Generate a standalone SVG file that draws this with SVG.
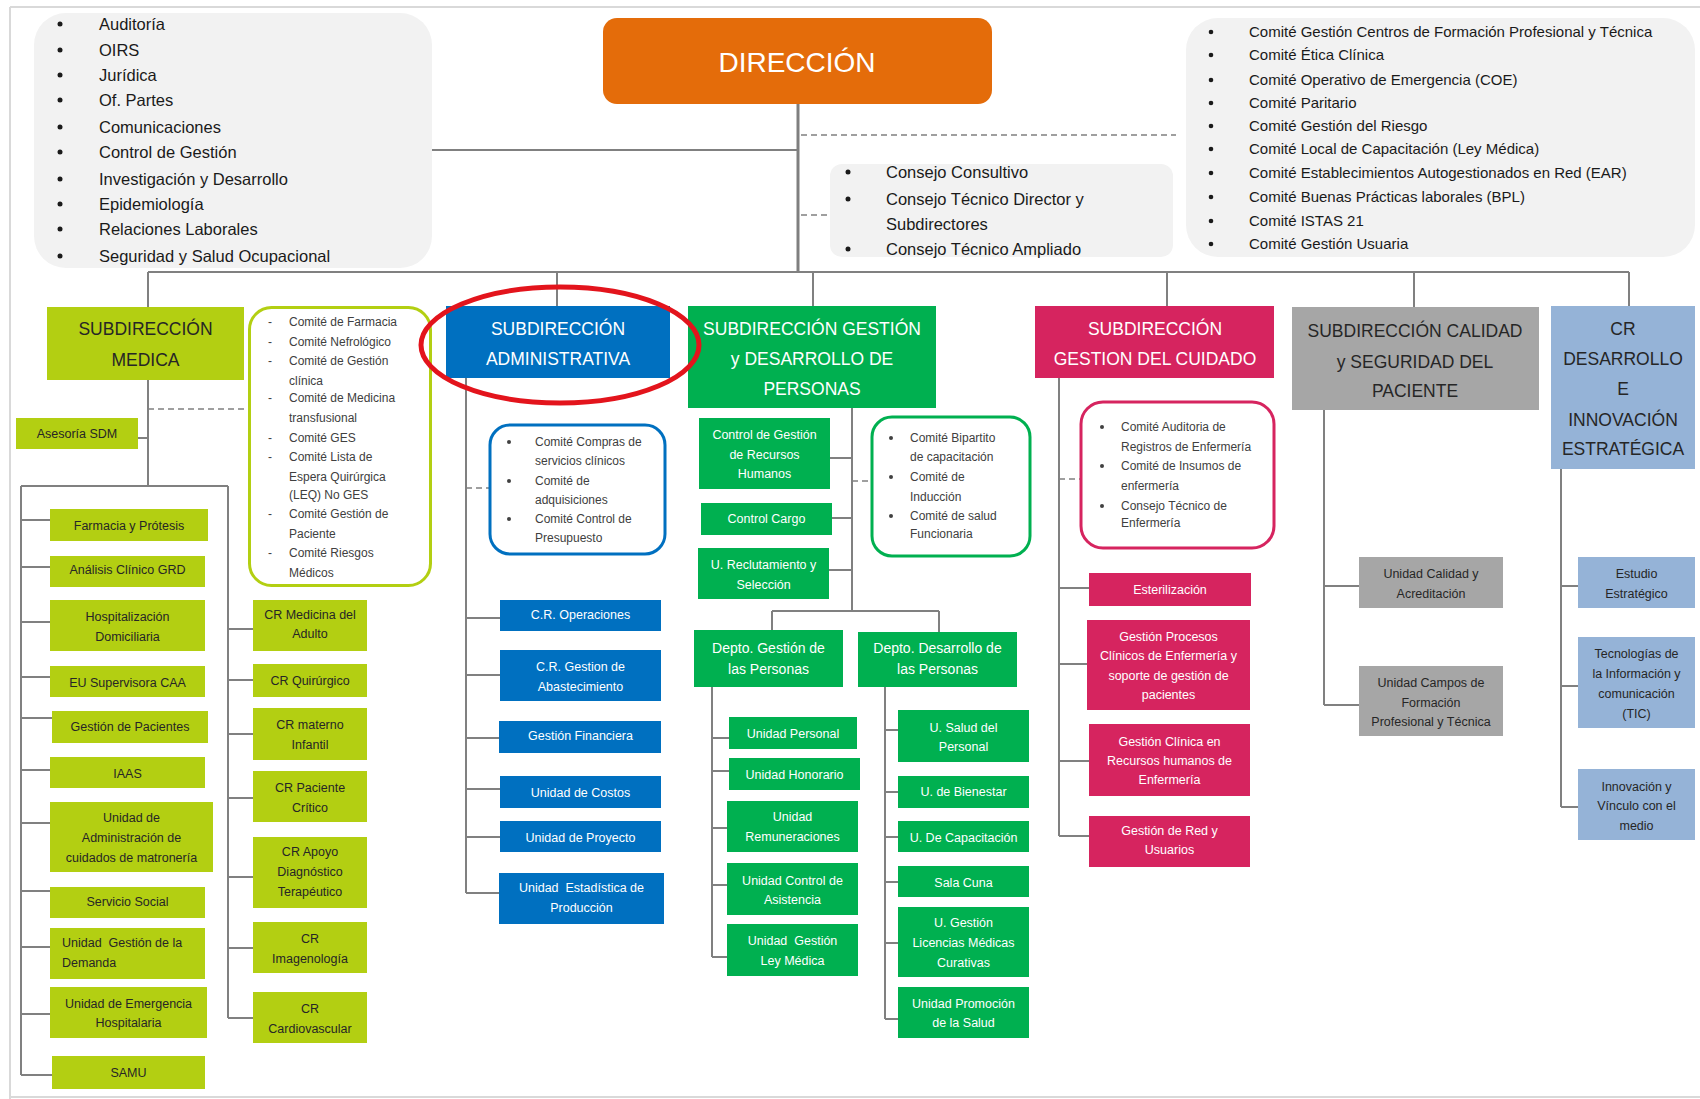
<svg xmlns="http://www.w3.org/2000/svg" width="1700" height="1099" viewBox="0 0 1700 1099">
<style>
text{font-family:"Liberation Sans",Arial,sans-serif}
.conn{stroke:#808080;stroke-width:2;fill:none}
.dash{stroke:#808080;stroke-width:1.5;stroke-dasharray:6 4;fill:none}
.list{font-size:16.5px;fill:#1a1a1a}
.listr{font-size:15px;fill:#1a1a1a}
.title{font-size:17.5px;text-anchor:middle}
.unit{font-size:12.5px;text-anchor:middle}
.cm{font-size:12px;fill:#404040}
.w{fill:#ffffff}
.d{fill:#262626}
.gbox{fill:#f2f2f2}
.med{fill:#b3cf12}
.adm{fill:#0070c0}
.per{fill:#00b050}
.cui{fill:#d6245f}
.cal{fill:#a6a6a6}
.crd{fill:#95b3d7}
.blt{fill:#1a1a1a}
.cblt{fill:#404040}
</style>
<rect width="1700" height="1099" fill="#ffffff"/>
<path d="M10 7H1700M10 7V1099M10 1097H1700" stroke="#d9d9d9" stroke-width="2" fill="none"/>

<g id="connectors">
<path d="M798 104V272" stroke="#7f7f7f" stroke-width="3" fill="none"/>
<path class="conn" d="M432 150H798M148 272H1629M148 272V307M557 272V306M813 272V306M1167 272V306M1414 272V307M1629 272V306"/>
<path class="dash" d="M801 135H1176M801 215H830"/>
<path class="conn" d="M148 380V486M138 438H148M21 486H228M21 486V1075M228 486V1018M21 520H50M21 567H50M21 622H50M21 677H50M21 718H52M21 770H50M21 823H50M21 891H50M21 947H50M21 1014H50M21 1075H52M228 629H253M228 680H253M228 734H253M228 798H253M228 877H253M228 948H253M228 1018H253"/>
<path class="dash" d="M148 409H248"/>
<path class="conn" d="M466 378V893M466 618H500M466 675H500M466 738H499M466 789H500M466 837H500M466 893H499"/>
<path class="dash" d="M466 488H490"/>
<path class="conn" d="M852 408V611M830 458H852M832 518H852M829 570H852M772 611H939M772 611V630M939 611V632M712 687V957M712 738H729M712 771H729M712 828H727M712 885H727M712 957H727M885 687V1019M885 730H898M885 792H898M885 837H898M885 882H898M885 943H898M885 1019H898"/>
<path class="dash" d="M852 481H872"/>
<path class="conn" d="M1059 378V836M1059 588H1089M1059 664H1087M1059 761H1089M1059 836H1089"/>
<path class="dash" d="M1059 479H1081"/>
<path class="conn" d="M1324 410V705M1324 586H1359M1324 705H1359M1561 469V807M1561 586H1578M1561 686H1578M1561 807H1578"/>
</g>

<g id="staff-list">
<rect class="gbox" x="34" y="13" width="398" height="255" rx="32"/>
<g class="blt"><circle cx="60" cy="24" r="2.5"/><circle cx="60" cy="50" r="2.5"/><circle cx="60" cy="75" r="2.5"/><circle cx="60" cy="100" r="2.5"/><circle cx="60" cy="127" r="2.5"/><circle cx="60" cy="152" r="2.5"/><circle cx="60" cy="179" r="2.5"/><circle cx="60" cy="204" r="2.5"/><circle cx="60" cy="229" r="2.5"/><circle cx="60" cy="256" r="2.5"/></g>
<text class="list"><tspan x="99" y="30">Auditoría</tspan><tspan x="99" y="56">OIRS</tspan><tspan x="99" y="81">Jurídica</tspan><tspan x="99" y="106">Of. Partes</tspan><tspan x="99" y="133">Comunicaciones</tspan><tspan x="99" y="158">Control de Gestión</tspan><tspan x="99" y="185">Investigación y Desarrollo</tspan><tspan x="99" y="210">Epidemiología</tspan><tspan x="99" y="235">Relaciones Laborales</tspan><tspan x="99" y="262">Seguridad y Salud Ocupacional</tspan></text>
</g>

<g id="direccion">
<rect x="603" y="18" width="389" height="86" rx="14" fill="#e46c0a"/>
<text x="797" y="72" font-size="28" text-anchor="middle" class="w">DIRECCIÓN</text>
</g>

<g id="consejos">
<rect class="gbox" x="830" y="164" width="343" height="93" rx="12"/>
<g class="blt"><circle cx="848" cy="172" r="2.5"/><circle cx="848" cy="199" r="2.5"/><circle cx="848" cy="249" r="2.5"/></g>
<text class="list"><tspan x="886" y="177.5">Consejo Consultivo</tspan><tspan x="886" y="204.5">Consejo Técnico Director y</tspan><tspan x="886" y="229.5">Subdirectores</tspan><tspan x="886" y="254.5">Consejo Técnico Ampliado</tspan></text>
</g>

<g id="comites-direccion">
<rect class="gbox" x="1186" y="18" width="509" height="239" rx="32"/>
<g class="blt"><circle cx="1211" cy="32" r="2.3"/><circle cx="1211" cy="55" r="2.3"/><circle cx="1211" cy="80" r="2.3"/><circle cx="1211" cy="103" r="2.3"/><circle cx="1211" cy="126" r="2.3"/><circle cx="1211" cy="149" r="2.3"/><circle cx="1211" cy="173" r="2.3"/><circle cx="1211" cy="197" r="2.3"/><circle cx="1211" cy="221" r="2.3"/><circle cx="1211" cy="244" r="2.3"/></g>
<text class="listr"><tspan x="1249" y="37">Comité Gestión Centros de Formación Profesional y Técnica</tspan><tspan x="1249" y="60">Comité Ética Clínica</tspan><tspan x="1249" y="85">Comité Operativo de Emergencia (COE)</tspan><tspan x="1249" y="108">Comité Paritario</tspan><tspan x="1249" y="131">Comité Gestión del Riesgo</tspan><tspan x="1249" y="154">Comité Local de Capacitación (Ley Médica)</tspan><tspan x="1249" y="178">Comité Establecimientos Autogestionados en Red (EAR)</tspan><tspan x="1249" y="202">Comité Buenas Prácticas laborales (BPL)</tspan><tspan x="1249" y="226">Comité ISTAS 21</tspan><tspan x="1249" y="249">Comité Gestión Usuaria</tspan></text>
</g>

<!-- SUBDIRECCIÓN MEDICA -->
<g id="sub-medica">
<rect class="med" x="47" y="307" width="197" height="73"/>
<text class="title d"><tspan x="145.5" y="335">SUBDIRECCIÓN</tspan><tspan x="145.5" y="366">MEDICA</tspan></text>
</g>
<g id="comites-medica">
<rect x="249.5" y="307.5" width="181" height="278" rx="22" fill="#fff" stroke="#b3cf12" stroke-width="3"/>
<text class="cm"><tspan x="268" y="326">-</tspan><tspan x="268" y="346">-</tspan><tspan x="268" y="365">-</tspan><tspan x="268" y="402">-</tspan><tspan x="268" y="442">-</tspan><tspan x="268" y="461">-</tspan><tspan x="268" y="518">-</tspan><tspan x="268" y="557">-</tspan></text>
<text class="cm"><tspan x="289" y="326">Comité de Farmacia</tspan><tspan x="289" y="346">Comité Nefrológico</tspan><tspan x="289" y="365">Comité de Gestión</tspan><tspan x="289" y="385">clínica</tspan><tspan x="289" y="402">Comité de Medicina</tspan><tspan x="289" y="422">transfusional</tspan><tspan x="289" y="442">Comité GES</tspan><tspan x="289" y="461">Comité Lista de</tspan><tspan x="289" y="481">Espera Quirúrgica</tspan><tspan x="289" y="499">(LEQ) No GES</tspan><tspan x="289" y="518">Comité Gestión de</tspan><tspan x="289" y="538">Paciente</tspan><tspan x="289" y="557">Comité Riesgos</tspan><tspan x="289" y="577">Médicos</tspan></text>
</g>
<g id="asesoria-sdm"><rect class="med" x="16" y="418" width="122" height="31"/><text class="unit d" x="77" y="437.5">Asesoría SDM</text></g>
<g id="farmacia"><rect class="med" x="50" y="509" width="158" height="32"/><text class="unit d" x="129" y="529.5">Farmacia y Prótesis</text></g>
<g id="analisis-grd"><rect class="med" x="50" y="556" width="155" height="31"/><text class="unit d" x="127.5" y="573.5">Análisis Clínico GRD</text></g>
<g id="hosp-dom"><rect class="med" x="50" y="600" width="155" height="51"/><text class="unit d"><tspan x="127.5" y="620.5">Hospitalización</tspan><tspan x="127.5" y="640.5">Domiciliaria</tspan></text></g>
<g id="eu-caa"><rect class="med" x="50" y="666" width="155" height="31"/><text class="unit d" x="127.5" y="686.5">EU Supervisora CAA</text></g>
<g id="gest-pac"><rect class="med" x="52" y="711" width="156" height="32"/><text class="unit d" x="130" y="730.5">Gestión de Pacientes</text></g>
<g id="iaas"><rect class="med" x="50" y="757" width="155" height="31"/><text class="unit d" x="127.5" y="777.5">IAAS</text></g>
<g id="matroneria"><rect class="med" x="50" y="802" width="163" height="70"/><text class="unit d"><tspan x="131.5" y="821.5">Unidad de</tspan><tspan x="131.5" y="841.5">Administración de</tspan><tspan x="131.5" y="861.5">cuidados de matronería</tspan></text></g>
<g id="serv-social"><rect class="med" x="50" y="887" width="155" height="31"/><text class="unit d" x="127.5" y="905.5">Servicio Social</text></g>
<g id="gest-demanda"><rect class="med" x="50" y="928" width="155" height="51"/><text class="d" font-size="12.5" xml:space="preserve"><tspan x="62" y="946.5">Unidad  Gestión de la</tspan><tspan x="62" y="966.5">Demanda</tspan></text></g>
<g id="emergencia"><rect class="med" x="50" y="987" width="157" height="51"/><text class="unit d"><tspan x="128.5" y="1007.5">Unidad de Emergencia</tspan><tspan x="128.5" y="1026.5">Hospitalaria</tspan></text></g>
<g id="samu"><rect class="med" x="52" y="1056" width="153" height="33"/><text class="unit d" x="128.5" y="1076.5">SAMU</text></g>
<g id="cr-adulto"><rect class="med" x="253" y="600" width="114" height="51"/><text class="unit d"><tspan x="310" y="618.5">CR Medicina del</tspan><tspan x="310" y="637.5">Adulto</tspan></text></g>
<g id="cr-quirurgico"><rect class="med" x="253" y="664" width="114" height="33"/><text class="unit d" x="310" y="684.5">CR Quirúrgico</text></g>
<g id="cr-materno"><rect class="med" x="253" y="708" width="114" height="52"/><text class="unit d"><tspan x="310" y="728.5">CR materno</tspan><tspan x="310" y="748.5">Infantil</tspan></text></g>
<g id="cr-critico"><rect class="med" x="253" y="771" width="114" height="51"/><text class="unit d"><tspan x="310" y="791.5">CR Paciente</tspan><tspan x="310" y="811.5">Crítico</tspan></text></g>
<g id="cr-apoyo"><rect class="med" x="253" y="837" width="114" height="71"/><text class="unit d"><tspan x="310" y="855.5">CR Apoyo</tspan><tspan x="310" y="875.5">Diagnóstico</tspan><tspan x="310" y="895.5">Terapéutico</tspan></text></g>
<g id="cr-imagen"><rect class="med" x="253" y="922" width="114" height="51"/><text class="unit d"><tspan x="310" y="942.5">CR</tspan><tspan x="310" y="962.5">Imagenología</tspan></text></g>
<g id="cr-cardio"><rect class="med" x="253" y="992" width="114" height="51"/><text class="unit d"><tspan x="310" y="1012.5">CR</tspan><tspan x="310" y="1032.5">Cardiovascular</tspan></text></g>

<!-- SUBDIRECCIÓN ADMINISTRATIVA -->
<g id="sub-administrativa">
<rect class="adm" x="446" y="306" width="224" height="72"/>
<text class="title w"><tspan x="558" y="335">SUBDIRECCIÓN</tspan><tspan x="558" y="365">ADMINISTRATIVA</tspan></text>
</g>
<g id="comites-admin">
<rect x="490" y="425" width="175" height="129" rx="20" fill="#fff" stroke="#0070c0" stroke-width="3"/>
<g class="cblt"><circle cx="509" cy="442" r="2"/><circle cx="509" cy="481" r="2"/><circle cx="509" cy="519" r="2"/></g>
<text class="cm"><tspan x="535" y="446">Comité Compras de</tspan><tspan x="535" y="465">servicios clínicos</tspan><tspan x="535" y="485">Comité de</tspan><tspan x="535" y="504">adquisiciones</tspan><tspan x="535" y="523">Comité Control de</tspan><tspan x="535" y="542">Presupuesto</tspan></text>
</g>
<g id="cr-operaciones"><rect class="adm" x="500" y="600" width="161" height="31"/><text class="unit w" x="580.5" y="618.5">C.R. Operaciones</text></g>
<g id="cr-abastecimiento"><rect class="adm" x="500" y="650" width="161" height="51"/><text class="unit w"><tspan x="580.5" y="670.5">C.R. Gestion de</tspan><tspan x="580.5" y="690.5">Abastecimiento</tspan></text></g>
<g id="gest-financiera"><rect class="adm" x="499" y="721" width="162" height="32"/><text class="unit w" x="580.5" y="739.5">Gestión Financiera</text></g>
<g id="u-costos"><rect class="adm" x="500" y="776" width="161" height="32"/><text class="unit w" x="580.5" y="796.5">Unidad de Costos</text></g>
<g id="u-proyecto"><rect class="adm" x="500" y="821" width="161" height="31"/><text class="unit w" x="580.5" y="841.5">Unidad de Proyecto</text></g>
<g id="u-estadistica"><rect class="adm" x="499" y="873" width="165" height="51"/><text class="unit w" xml:space="preserve"><tspan x="581.5" y="891.5">Unidad  Estadística de</tspan><tspan x="581.5" y="911.5">Producción</tspan></text></g>

<!-- SUBDIRECCIÓN GESTIÓN Y DESARROLLO DE PERSONAS -->
<g id="sub-personas">
<rect class="per" x="688" y="306" width="248" height="102"/>
<text class="title w"><tspan x="812" y="335">SUBDIRECCIÓN GESTIÓN</tspan><tspan x="812" y="365">y DESARROLLO DE</tspan><tspan x="812" y="395">PERSONAS</tspan></text>
</g>
<g id="comites-personas">
<rect x="872" y="417" width="158" height="139" rx="20" fill="#fff" stroke="#00b050" stroke-width="3"/>
<g class="cblt"><circle cx="891" cy="438" r="2"/><circle cx="891" cy="477" r="2"/><circle cx="891" cy="516" r="2"/></g>
<text class="cm"><tspan x="910" y="442">Comité Bipartito</tspan><tspan x="910" y="461">de capacitación</tspan><tspan x="910" y="481">Comité de</tspan><tspan x="910" y="501">Inducción</tspan><tspan x="910" y="520">Comité de salud</tspan><tspan x="910" y="538">Funcionaria</tspan></text>
</g>
<g id="cg-rrhh"><rect class="per" x="699" y="418" width="131" height="71"/><text class="unit w"><tspan x="764.5" y="438.5">Control de Gestión</tspan><tspan x="764.5" y="458.5">de Recursos</tspan><tspan x="764.5" y="477.5">Humanos</tspan></text></g>
<g id="control-cargo"><rect class="per" x="701" y="503" width="131" height="32"/><text class="unit w" x="766.5" y="522.5">Control Cargo</text></g>
<g id="reclutamiento"><rect class="per" x="698" y="548" width="131" height="51"/><text class="unit w"><tspan x="763.5" y="568.5">U. Reclutamiento y</tspan><tspan x="763.5" y="588.5">Selección</tspan></text></g>
<g id="depto-gestion"><rect class="per" x="694" y="630" width="149" height="57"/><text class="w" font-size="14" text-anchor="middle"><tspan x="768.5" y="653">Depto. Gestión de</tspan><tspan x="768.5" y="674">las Personas</tspan></text></g>
<g id="depto-desarrollo"><rect class="per" x="858" y="632" width="159" height="55"/><text class="w" font-size="14" text-anchor="middle"><tspan x="937.5" y="653">Depto. Desarrollo de</tspan><tspan x="937.5" y="674">las Personas</tspan></text></g>
<g id="u-personal"><rect class="per" x="729" y="717" width="128" height="32"/><text class="unit w" x="793" y="737.5">Unidad Personal</text></g>
<g id="u-honorario"><rect class="per" x="729" y="758" width="131" height="32"/><text class="unit w" x="794.5" y="778.5">Unidad Honorario</text></g>
<g id="u-remuneraciones"><rect class="per" x="727" y="801" width="131" height="51"/><text class="unit w"><tspan x="792.5" y="820.5">Unidad</tspan><tspan x="792.5" y="840.5">Remuneraciones</tspan></text></g>
<g id="u-asistencia"><rect class="per" x="727" y="863" width="131" height="52"/><text class="unit w"><tspan x="792.5" y="884.5">Unidad Control de</tspan><tspan x="792.5" y="903.5">Asistencia</tspan></text></g>
<g id="u-ley-medica"><rect class="per" x="727" y="924" width="131" height="52"/><text class="unit w" xml:space="preserve"><tspan x="792.5" y="944.5">Unidad  Gestión</tspan><tspan x="792.5" y="964.5">Ley Médica</tspan></text></g>
<g id="u-salud-personal"><rect class="per" x="898" y="710" width="131" height="52"/><text class="unit w"><tspan x="963.5" y="731.5">U. Salud del</tspan><tspan x="963.5" y="750.5">Personal</tspan></text></g>
<g id="u-bienestar"><rect class="per" x="898" y="776" width="131" height="32"/><text class="unit w" x="963.5" y="795.5">U. de Bienestar</text></g>
<g id="u-capacitacion"><rect class="per" x="898" y="821" width="131" height="31"/><text class="unit w" x="963.5" y="841.5">U. De Capacitación</text></g>
<g id="sala-cuna"><rect class="per" x="898" y="866" width="131" height="31"/><text class="unit w" x="963.5" y="886.5">Sala Cuna</text></g>
<g id="u-licencias"><rect class="per" x="898" y="907" width="131" height="70"/><text class="unit w"><tspan x="963.5" y="926.5">U. Gestión</tspan><tspan x="963.5" y="946.5">Licencias Médicas</tspan><tspan x="963.5" y="966.5">Curativas</tspan></text></g>
<g id="u-promocion"><rect class="per" x="898" y="987" width="131" height="51"/><text class="unit w"><tspan x="963.5" y="1007.5">Unidad Promoción</tspan><tspan x="963.5" y="1026.5">de la Salud</tspan></text></g>

<!-- SUBDIRECCIÓN GESTION DEL CUIDADO -->
<g id="sub-cuidado">
<rect class="cui" x="1035" y="306" width="239" height="72"/>
<text class="title w"><tspan x="1155" y="335">SUBDIRECCIÓN</tspan><tspan x="1155" y="365">GESTION DEL CUIDADO</tspan></text>
</g>
<g id="comites-cuidado">
<rect x="1081" y="402" width="193" height="146" rx="22" fill="#fff" stroke="#d6245f" stroke-width="3"/>
<g class="cblt"><circle cx="1102" cy="427" r="2"/><circle cx="1102" cy="466" r="2"/><circle cx="1102" cy="506" r="2"/></g>
<text class="cm"><tspan x="1121" y="431">Comité Auditoria de</tspan><tspan x="1121" y="451">Registros de Enfermería</tspan><tspan x="1121" y="470">Comité de Insumos de</tspan><tspan x="1121" y="490">enfermería</tspan><tspan x="1121" y="510">Consejo Técnico de</tspan><tspan x="1121" y="527">Enfermería</tspan></text>
</g>
<g id="esterilizacion"><rect class="cui" x="1089" y="573" width="162" height="33"/><text class="unit w" x="1170" y="593.5">Esterilización</text></g>
<g id="procesos-clinicos"><rect class="cui" x="1087" y="620" width="163" height="90"/><text class="unit w"><tspan x="1168.5" y="640.5">Gestión Procesos</tspan><tspan x="1168.5" y="660">Clínicos de Enfermería y</tspan><tspan x="1168.5" y="679.5">soporte de gestión de</tspan><tspan x="1168.5" y="698.5">pacientes</tspan></text></g>
<g id="gestion-clinica-rrhh"><rect class="cui" x="1089" y="724" width="161" height="72"/><text class="unit w"><tspan x="1169.5" y="745.5">Gestión Clínica en</tspan><tspan x="1169.5" y="764.5">Recursos humanos de</tspan><tspan x="1169.5" y="783.5">Enfermería</tspan></text></g>
<g id="red-usuarios"><rect class="cui" x="1089" y="816" width="161" height="51"/><text class="unit w"><tspan x="1169.5" y="834.5">Gestión de Red y</tspan><tspan x="1169.5" y="853.5">Usuarios</tspan></text></g>

<!-- SUBDIRECCIÓN CALIDAD -->
<g id="sub-calidad">
<rect class="cal" x="1292" y="307" width="247" height="103"/>
<text class="title d"><tspan x="1415" y="337">SUBDIRECCIÓN CALIDAD</tspan><tspan x="1415" y="368">y SEGURIDAD DEL</tspan><tspan x="1415" y="397">PACIENTE</tspan></text>
</g>
<g id="u-calidad"><rect class="cal" x="1359" y="557" width="144" height="51"/><text class="unit d"><tspan x="1431" y="577.5">Unidad Calidad y</tspan><tspan x="1431" y="597.5">Acreditación</tspan></text></g>
<g id="u-campos"><rect class="cal" x="1359" y="666" width="144" height="70"/><text class="unit d"><tspan x="1431" y="686.5">Unidad Campos de</tspan><tspan x="1431" y="706.5">Formación</tspan><tspan x="1431" y="725.5">Profesional y Técnica</tspan></text></g>

<!-- CR DESARROLLO E INNOVACIÓN -->
<g id="cr-desarrollo">
<rect class="crd" x="1551" y="306" width="144" height="163"/>
<text class="title d"><tspan x="1623" y="335">CR</tspan><tspan x="1623" y="365">DESARROLLO</tspan><tspan x="1623" y="395">E</tspan><tspan x="1623" y="426">INNOVACIÓN</tspan><tspan x="1623" y="455">ESTRATÉGICA</tspan></text>
</g>
<g id="estudio-estrategico"><rect class="crd" x="1578" y="557" width="117" height="51"/><text class="unit d"><tspan x="1636.5" y="577.5">Estudio</tspan><tspan x="1636.5" y="597.5">Estratégico</tspan></text></g>
<g id="tic"><rect class="crd" x="1578" y="637" width="117" height="91"/><text class="unit d"><tspan x="1636.5" y="657.5">Tecnologías de</tspan><tspan x="1636.5" y="677.5">la Información y</tspan><tspan x="1636.5" y="697.5">comunicación</tspan><tspan x="1636.5" y="717.5">(TIC)</tspan></text></g>
<g id="innovacion"><rect class="crd" x="1578" y="769" width="117" height="71"/><text class="unit d"><tspan x="1636.5" y="790.5">Innovación y</tspan><tspan x="1636.5" y="809.5">Vínculo con el</tspan><tspan x="1636.5" y="829.5">medio</tspan></text></g>

<ellipse cx="560" cy="345" rx="139" ry="58" fill="none" stroke="#e3141c" stroke-width="5"/>
</svg>
